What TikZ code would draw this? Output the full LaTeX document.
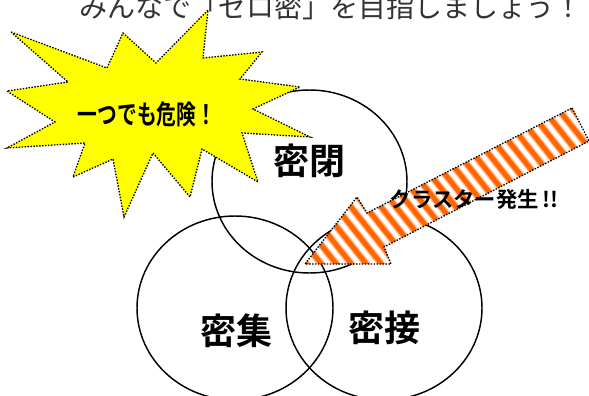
\documentclass[tikz,border=0pt]{standalone}
\usepackage{fontspec}
\newfontfamily\jp{Noto Sans CJK JP}
\newfontfamily\jpb{Noto Sans CJK JP Bold}
\definecolor{starYellow}{HTML}{FFFF00}
\definecolor{stripeOrange}{HTML}{FF6600}
\begin{document}
\begin{tikzpicture}[x=0.75pt,y=-0.75pt,
  ring/.style={draw=black,line width=1.1pt},
  dotline/.style={draw=black,line width=1pt,dash pattern=on 1.1pt off 1.1pt},
  bigword/.style={font=\jpb\fontsize{27}{30}\selectfont,inner sep=0pt},
  toptext/.style={font=\jp\fontsize{21}{24}\selectfont,text=black!80,inner sep=0pt,anchor=base},
  bursttext/.style={font=\jpb\fontsize{20}{22}\selectfont,inner sep=0pt,xscale=0.74},
  arrowtext/.style={font=\jpb\fontsize{16}{18}\selectfont,inner sep=0pt}]
\useasboundingbox (0,0) rectangle (589,396);
% heading, cut at the top edge
\node[toptext] (head) at (331,17) {みんなで「ゼロ密」を目指しましょう！};
% three circles
\draw[ring] (309.5,181.5) ellipse [x radius=97.5, y radius=91.5];
\draw[ring] (235,308) ellipse [x radius=98, y radius=92];
\draw[ring] (384,308) ellipse [x radius=98, y radius=92];
% starburst
\path[dotline,fill=starYellow] (11,32) -- (107,68) -- (123,33) -- (156,63) -- (208,10) -- (203,58)
  -- (262,52) -- (240,79) -- (300,87) -- (253,109) -- (310,137) -- (242,133)
  -- (258,182) -- (202,149) -- (190,197) -- (153,153) -- (124,217) -- (113,159)
  -- (73,177) -- (85,143) -- (7,148) -- (55,122) -- (7,91) -- (68,82) -- cycle;
% striped arrow
\begin{scope}
  \clip (572,108) -- (589,141) -- (384,247) -- (391,264) -- (305,264) -- (357,197) -- (367,213) -- cycle;
  \fill[white] (290,90) rectangle (600,280);
  \foreach \x in {40,55,...,640}{
    \draw[stripeOrange!45,line width=5.6pt] (\x,80) -- (\x+175,300);
    \draw[stripeOrange,line width=3.6pt] (\x,80) -- (\x+175,300);
  }
\end{scope}
\path[dotline] (572,108) -- (589,141) -- (384,247) -- (391,264) -- (305,264) -- (357,197) -- (367,213) -- cycle;
% labels
\node[bursttext] (danger) at (147,114) {一つでも危険！};
\node[bigword] (closed) at (309,161) {密閉};
\node[bigword] (crowd) at (236,331) {密集};
\node[bigword] (close) at (384,328) {密接};
\node[arrowtext] (cluster) at (474,199) {クラスター発生\,!!};
\end{tikzpicture}
\end{document}
